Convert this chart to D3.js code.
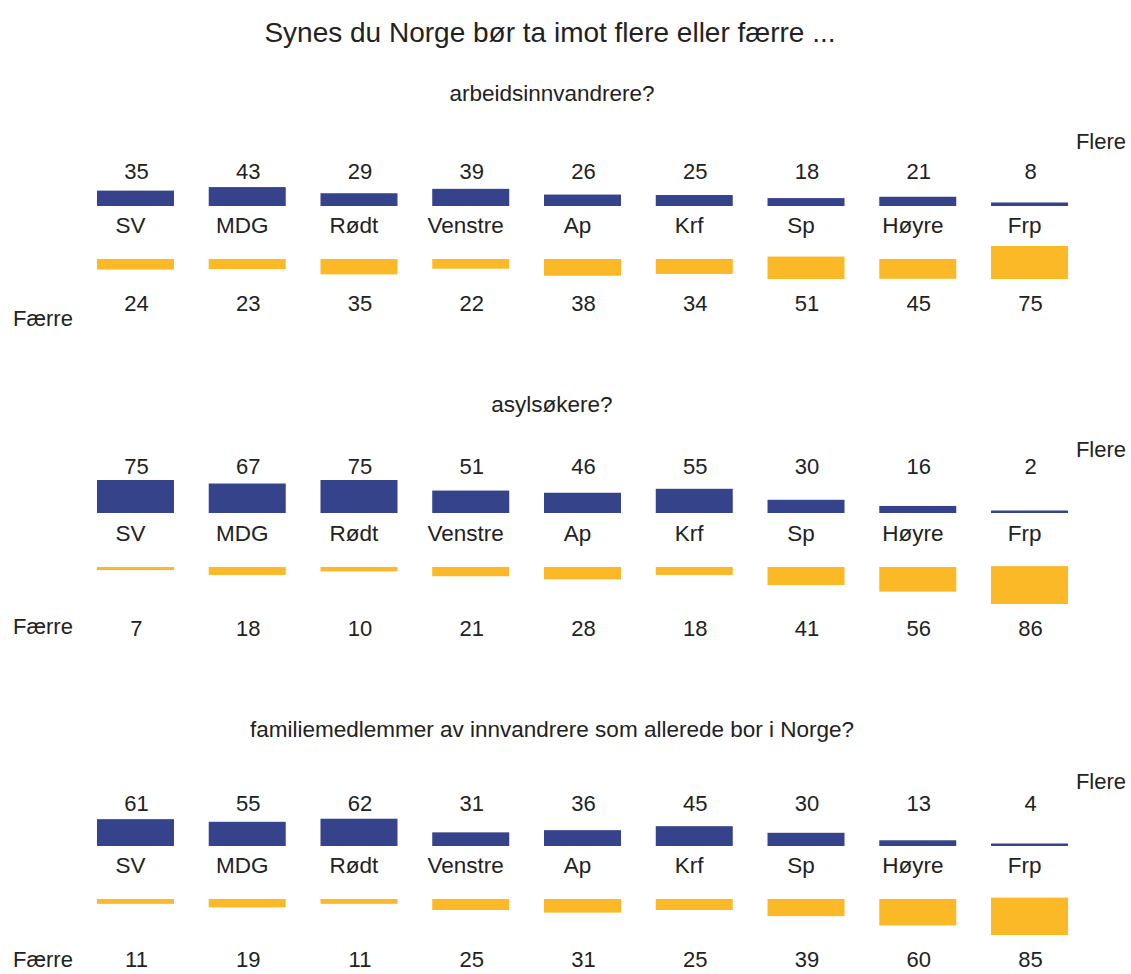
<!DOCTYPE html>
<html>
<head>
<meta charset="utf-8">
<script src="https://cdn.jsdelivr.net/npm/d3@7/dist/d3.min.js"></script>
<style>
  html, body { margin: 0; padding: 0; background: #fff; }
  svg { display: block; }
  text { font-family: "Liberation Sans", Arial, Helvetica, sans-serif; fill: #222; }
</style>
</head>
<body>
<svg id="chart" width="1131" height="974"></svg>
<script>
// ---- data ----
const title = "Synes du Norge bør ta imot flere eller færre ...";
const categories = ["SV", "MDG", "Rødt", "Venstre", "Ap", "Krf", "Sp", "Høyre", "Frp"];
const questions = ["arbeidsinnvandrere?", "asylsøkere?", "familiemedlemmer av innvandrere som allerede bor i Norge?"];
const moreLabel = "Flere";
const fewerLabel = "Færre";

const flereArbeid   = [35, 43, 29, 39, 26, 25, 18, 21, 8];
const faerreArbeid  = [24, 23, 35, 22, 38, 34, 51, 45, 75];
const flereAsyl     = [75, 67, 75, 51, 46, 55, 30, 16, 2];
const faerreAsyl    = [7, 18, 10, 21, 28, 18, 41, 56, 86];
const flereFamilie  = [61, 55, 62, 31, 36, 45, 30, 13, 4];
const faerreFamilie = [11, 19, 11, 25, 31, 25, 39, 60, 85];

const moreSeries  = [flereArbeid, flereAsyl, flereFamilie];
const fewerSeries = [faerreArbeid, faerreAsyl, faerreFamilie];

// ---- layout (positions, not data) ----
const layout = [
  { sub: 101, flere: 149, val: 179, base: 206, cat: 233, low: 259, lowVal: 311, faerre: 326 },
  { sub: 412, flere: 457, val: 474, base: 513, cat: 541, low: 567, lowVal: 636, faerre: 634 },
  { sub: 737, flere: 789, val: 811, base: 846, cat: 873, low: 899, lowVal: 967, faerre: 967 }
];
const BLUE = "#35438A";
const YELLOW = "#FBB927";
const FS = 22.5;

const svg = d3.select("#chart");

const x = d3.scaleBand()
  .domain(categories)
  .range([79.6, 1085.4])
  .paddingInner(0.311)
  .paddingOuter(0.1555);

const h = d3.scaleLinear().domain([0, 100]).range([0, 44]);

svg.append("text")
  .attr("x", 550).attr("y", 42)
  .attr("text-anchor", "middle")
  .style("font-size", "28px")
  .text(title);

questions.forEach((q, p) => {
  const L = layout[p];
  const g = svg.append("g");
  const more = categories.map((c, i) => ({ c, v: moreSeries[p][i] }));
  const fewer = categories.map((c, i) => ({ c, v: fewerSeries[p][i] }));

  g.append("text")
    .attr("x", 552).attr("y", L.sub)
    .attr("text-anchor", "middle")
    .style("font-size", FS + "px")
    .text(q);

  g.append("text")
    .attr("x", 1126).attr("y", L.flere)
    .attr("text-anchor", "end")
    .style("font-size", "22px")
    .text(moreLabel);

  g.append("text")
    .attr("x", 13).attr("y", L.faerre)
    .attr("text-anchor", "start")
    .style("font-size", "22px")
    .text(fewerLabel);

  // blue bars (up from baseline)
  const bh = v => Math.max(h(v), 2.5);
  g.selectAll("rect.more").data(more).join("rect")
    .attr("class", "more")
    .attr("x", d => x(d.c))
    .attr("width", x.bandwidth())
    .attr("y", d => L.base - bh(d.v))
    .attr("height", d => bh(d.v))
    .attr("fill", BLUE);

  g.selectAll("text.moreVal").data(more).join("text")
    .attr("class", "moreVal")
    .attr("x", d => x(d.c) + x.bandwidth() / 2 + 1)
    .attr("y", L.val)
    .attr("text-anchor", "middle")
    .style("font-size", "22px")
    .text(d => d.v);

  g.selectAll("text.cat").data(categories).join("text")
    .attr("class", "cat")
    .attr("x", d => x(d) + x.bandwidth() / 2 - 5)
    .attr("y", L.cat)
    .attr("text-anchor", "middle")
    .style("font-size", FS + "px")
    .text(d => d);

  // yellow bars (down from their top line, kept clear of the labels below)
  const limit = L.lowVal - 16 - 16;
  g.selectAll("rect.fewer").data(fewer).join("rect")
    .attr("class", "fewer")
    .attr("x", d => x(d.c))
    .attr("width", x.bandwidth())
    .attr("y", d => Math.min(L.low, limit - h(d.v)))
    .attr("height", d => h(d.v))
    .attr("fill", YELLOW);

  g.selectAll("text.fewerVal").data(fewer).join("text")
    .attr("class", "fewerVal")
    .attr("x", d => x(d.c) + x.bandwidth() / 2 + 1)
    .attr("y", L.lowVal)
    .attr("text-anchor", "middle")
    .style("font-size", "22px")
    .text(d => d.v);
});
</script>
</body>
</html>
